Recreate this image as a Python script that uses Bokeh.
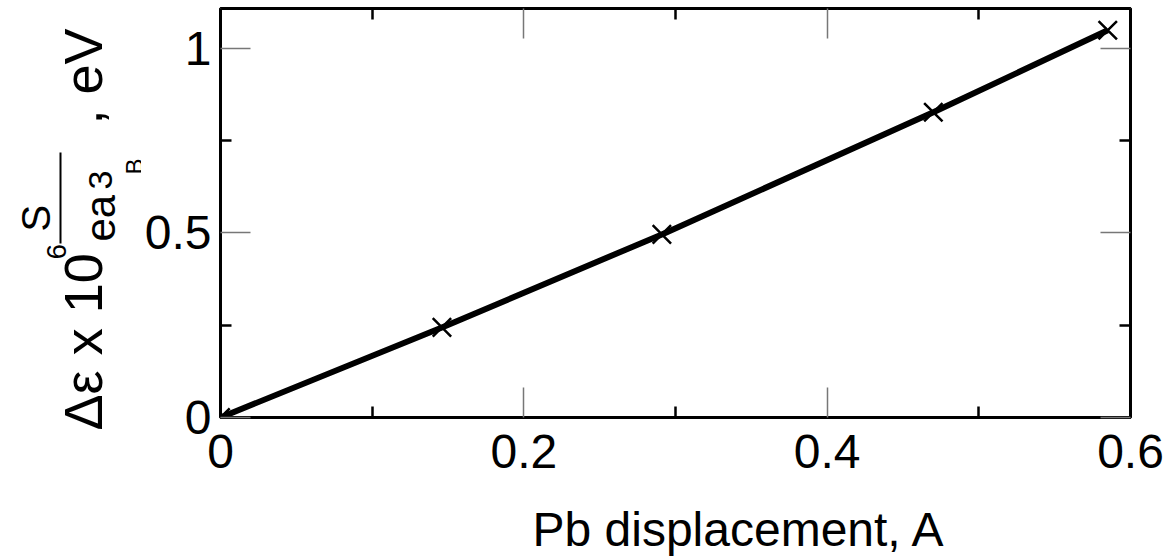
import math
from bokeh.plotting import figure
from bokeh.layouts import row, column
from bokeh.models import Range1d, LinearAxis, FixedTicker
from bokeh.core.properties import value
from bokeh.embed import file_html
from bokeh.resources import INLINE

# data
displacement = [0.0, 0.146, 0.291, 0.470, 0.585]
delta_eps = [0.0, 0.244, 0.496, 0.827, 1.049]

x_major = [0, 0.2, 0.4, 0.6]
x_major_labels = ["0", "0.2", "0.4", "0.6"]
x_minor = [0.1, 0.3, 0.5]
y_major = [0, 0.5, 1]
y_major_labels = ["0", "0.5", "1"]
y_minor = [0.25, 0.75]

FONT = "Liberation Sans"
W, H = 1175, 558
LW = 141          # width of the y-label strip
XH = 70           # height of the x-label strip
PH = H - XH       # height of the main row
TOP, BOTTOM = 8, PH - 417  # borders above / below the main frame

can_unalign = "frame_align" in figure().properties()

p = figure(width=W - LW, height=PH, x_range=Range1d(0, 0.6), y_range=Range1d(0, 1.108),
           output_backend="svg", toolbar_location=None,
           min_border_left=218 - LW, min_border_right=45, min_border_top=TOP, min_border_bottom=BOTTOM)
p.grid.visible = False
p.outline_line_color = "black"
p.outline_line_width = 3


def style(ax, ticks, labels, minor, show):
    ax.ticker = FixedTicker(ticks=ticks, minor_ticks=minor)
    ax.axis_line_color = "black"
    ax.axis_line_width = 3
    ax.major_tick_in = 30
    ax.major_tick_out = 0
    ax.major_tick_line_color = "#777777"
    ax.major_tick_line_width = 1.5
    ax.minor_tick_in = 11
    ax.minor_tick_out = 0
    ax.minor_tick_line_color = "black"
    ax.minor_tick_line_width = 2.5
    ax.major_label_overrides = {t: l for t, l in zip(ticks, labels)}
    ax.major_label_text_font = FONT
    ax.major_label_text_color = "black"
    if show:
        ax.major_label_text_font_size = "48px"
    else:
        ax.major_label_text_font_size = "0px"
        ax.major_label_standoff = 0


style(p.xaxis[0], x_major, x_major_labels, x_minor, True)
p.xaxis[0].major_label_standoff = 17
style(p.yaxis[0], y_major, y_major_labels, y_minor, True)
p.yaxis[0].major_label_standoff = 9

top = LinearAxis()
style(top, x_major, x_major_labels, x_minor, False)
p.add_layout(top, "above")
right = LinearAxis()
style(right, y_major, y_major_labels, y_minor, False)
p.add_layout(right, "right")

p.line(displacement, delta_eps, line_color="black", line_width=6)
p.scatter(displacement, delta_eps, marker="x", size=26, line_color="black", line_width=2.5)


def strip(w, h):
    f = figure(width=w, height=h, x_range=Range1d(0, w), y_range=Range1d(0, h),
               output_backend="svg", toolbar_location=None,
               x_axis_location=None, y_axis_location=None,
               min_border_left=0, min_border_right=0, min_border_top=0, min_border_bottom=0)
    f.grid.visible = False
    f.outline_line_color = None
    if can_unalign:
        f.frame_align = False
    return f


if can_unalign:
    p.frame_align = False

# y-label strip (composite label: Δε x 10^6 S/(e a_B^3), eV); y data = PH - page row
q = strip(LW, PH)


def ylab(x, y, text, size):
    q.text(x=[x], y=[PH - y], text=[text], angle=math.pi / 2,
           text_font=value(FONT), text_font_size=value(size), text_align="left",
           text_baseline="alphabetic", text_color="black")


ylab(82, 430, "Δε x 10", "54px")
ylab(56, 259, "6", "28px")
ylab(35, 231, "S", "40px")
ylab(100, 241, "ea", "42px")
ylab(100, 189, "3", "34px")
ylab(134, 174, "B", "24px")
ylab(82, 124, ", eV", "54px")
q.segment(x0=[60], y0=[PH - 152], x1=[60], y1=[PH - 243], line_color="black", line_width=2)

# x-label strip
r = strip(W, XH)
r.text(x=[532], y=[H - 547 + 18], text=["Pb displacement, A"],
       text_font=value(FONT), text_font_size=value("48px"), text_align="left",
       text_baseline="alphabetic", text_color="black")

layout = column(row(q, p, spacing=0), r, spacing=0)
open("out.html", "w").write(file_html(layout, INLINE))
